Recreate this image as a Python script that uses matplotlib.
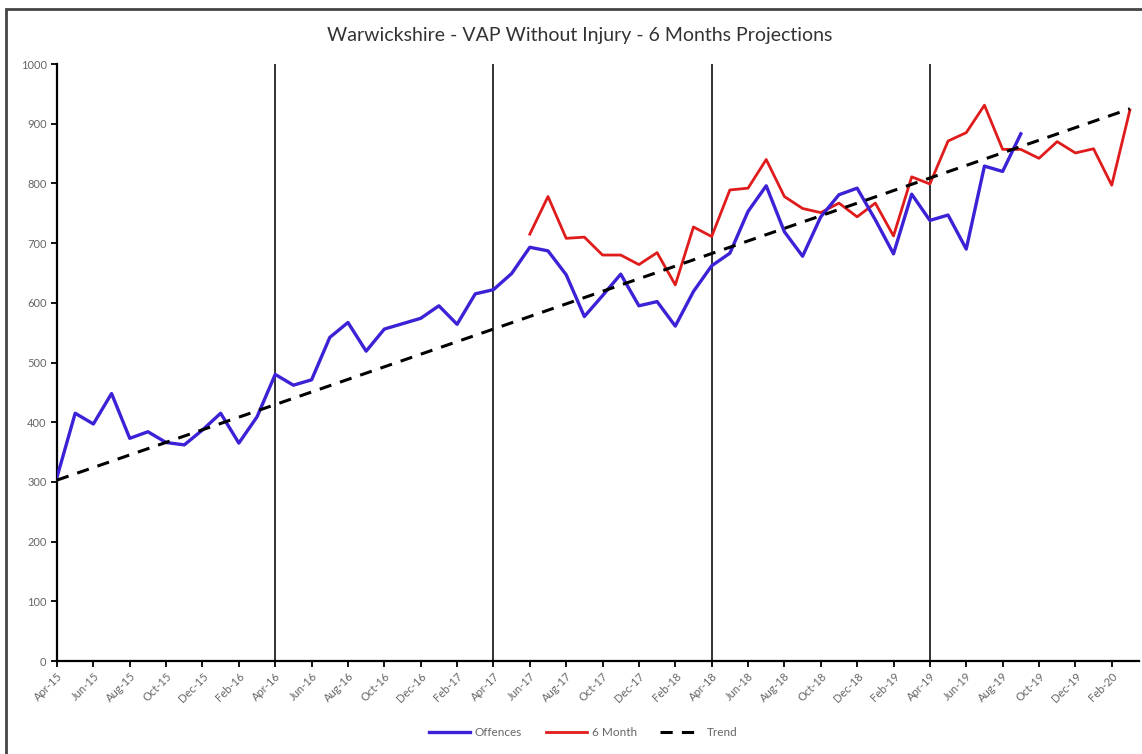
import matplotlib.pyplot as plt
from matplotlib.patches import Rectangle

plt.rcParams['font.family'] = ['Lato', 'DejaVu Sans']

# months Apr-15 .. Mar-20
months = ['Apr-15', 'May-15', 'Jun-15', 'Jul-15', 'Aug-15', 'Sep-15', 'Oct-15', 'Nov-15', 'Dec-15', 'Jan-16',
          'Feb-16', 'Mar-16', 'Apr-16', 'May-16', 'Jun-16', 'Jul-16', 'Aug-16', 'Sep-16', 'Oct-16', 'Nov-16',
          'Dec-16', 'Jan-17', 'Feb-17', 'Mar-17', 'Apr-17', 'May-17', 'Jun-17', 'Jul-17', 'Aug-17', 'Sep-17',
          'Oct-17', 'Nov-17', 'Dec-17', 'Jan-18', 'Feb-18', 'Mar-18', 'Apr-18', 'May-18', 'Jun-18', 'Jul-18',
          'Aug-18', 'Sep-18', 'Oct-18', 'Nov-18', 'Dec-18', 'Jan-19', 'Feb-19', 'Mar-19', 'Apr-19', 'May-19',
          'Jun-19', 'Jul-19', 'Aug-19', 'Sep-19', 'Oct-19', 'Nov-19', 'Dec-19', 'Jan-20', 'Feb-20', 'Mar-20']

offences = [308, 415, 397, 448, 373, 384, 366, 362, 387, 415, 365, 409,
            480, 462, 471, 542, 567, 519, 556, 565, 574, 595, 564, 615,
            622, 649, 693, 687, 647, 577, 612, 648, 595, 602, 561, 619,
            662, 683, 753, 796, 719, 678, 744, 781, 792, 739, 682, 782,
            738, 747, 690, 829, 820, 883]

# 6 month projection starts at Jun-17
proj_start = 26
six_month = [715, 778, 708, 710, 680, 680, 664, 684, 630, 727,
             711, 789, 792, 840, 778, 758, 751, 767, 744, 767,
             712, 811, 799, 871, 885, 931, 857, 857, 842, 870,
             851, 858, 797, 923]

# trend line end points (first and last month)
trend_vals = [303, 925]

year_lines = ['Apr-16', 'Apr-17', 'Apr-18', 'Apr-19']

fig = plt.figure(figsize=(11.42, 7.54), dpi=100)
ax = fig.add_axes([57 / 1142, 93 / 754, (1139 - 57) / 1142, (661 - 64) / 754])

x = list(range(len(months)))
for m in year_lines:
    ax.axvline(months.index(m), color='#222222', lw=1.3, zorder=1)

ax.plot(x[:len(offences)], offences, color='#3b22d6', lw=2.4, label='Offences', zorder=3)
ax.plot(x[proj_start:proj_start + len(six_month)], six_month, color='#e01b1b', lw=2.0,
        label='6 Month', zorder=2)
ax.plot([x[0], x[-1]], trend_vals, color='black', lw=2.2, ls=(0, (4, 3)), label='Trend', zorder=4)

ax.set_xlim(0, len(months) - 0.5)
ax.set_ylim(0, 1000)
ax.set_yticks(range(0, 1001, 100))
ax.set_xticks(x[::2])
ax.set_xticklabels(months[::2], rotation=45, ha='right', rotation_mode='anchor')
ax.tick_params(axis='both', labelsize=8, labelcolor='#666666', color='black', length=4, width=1.3)
ax.tick_params(axis='x', pad=3)

for side in ['top', 'right']:
    ax.spines[side].set_visible(False)
for side in ['left', 'bottom']:
    ax.spines[side].set_linewidth(1.6)
    ax.spines[side].set_color('black')

fig.text(580 / 1142, 1 - 35 / 754, 'Warwickshire - VAP Without Injury - 6 Months Projections',
         ha='center', va='center', fontsize=14, color='#333333')

leg = fig.legend(loc='center', bbox_to_anchor=(583 / 1142, 1 - 733 / 754), ncol=3, frameon=False,
                 fontsize=8.5, handlelength=3.5, columnspacing=2.0, handletextpad=0.4)
for t in leg.get_texts():
    t.set_color('#666666')

# chart area border
fig.patches.append(Rectangle((6 / 1142, -0.05), 1.2, 1 - 9 / 754 + 0.05, transform=fig.transFigure,
                             fill=False, edgecolor='#444444', lw=2))

fig.savefig('out.png', dpi=100)
